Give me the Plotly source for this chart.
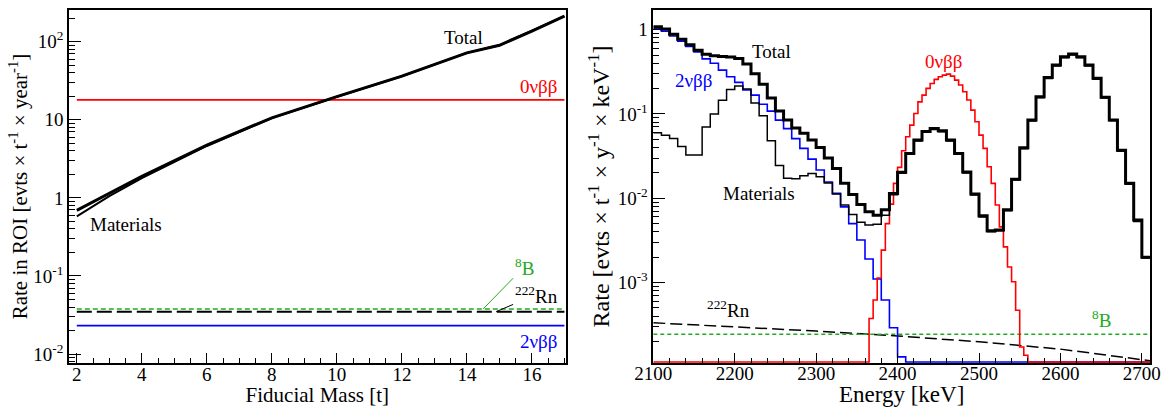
import numpy as np
import plotly.graph_objects as go

# ---------------- Left panel: rate in ROI vs fiducial mass ----------------
mass = [2, 3, 4, 6, 8, 10, 12, 14, 15, 16, 17]
total_roi = [0.69, 1.15, 1.89, 4.72, 10.6, 19.8, 36.2, 72, 90, 137, 213]
materials_roi = [0.58, 1.05, 1.79, 4.62, 10.5, 19.7, 36.1, 71.9, 89.9, 136.9, 212.9]
mass_span = [2, 17]
zeronu_roi = [18.0, 18.0]
b8_roi = [0.0378, 0.0378]
rn_roi = [0.0349, 0.0349]
twonu_roi = [0.0231, 0.0231]

# ---------------- Right panel: energy spectrum ----------------
edges10 = list(range(2100, 2711, 10))   # 10 keV bins
edges5 = list(range(2100, 2711, 5))     # 5 keV bins (0nbb)

total_spec = [1.08, 1.02, 0.88, 0.77, 0.66, 0.57, 0.51, 0.49, 0.48, 0.475,
              0.455, 0.39, 0.30, 0.225, 0.155, 0.108, 0.085, 0.068, 0.059, 0.049,
              0.040, 0.030, 0.0225, 0.0150, 0.0111, 0.0084, 0.0069, 0.0063, 0.0073, 0.0114,
              0.0203, 0.034, 0.049, 0.062, 0.067, 0.063, 0.049, 0.034, 0.0205, 0.0112,
              0.0062, 0.0041, 0.0042, 0.0073, 0.0168, 0.0396, 0.0845, 0.16, 0.27, 0.38,
              0.477, 0.513, 0.477, 0.38, 0.265, 0.158, 0.085, 0.037, 0.015, 0.0055,
              0.0020]
twonu_spec = [1.02, 0.96, 0.84, 0.73, 0.63, 0.545, 0.45, 0.40, 0.331, 0.276,
              0.237, 0.192, 0.167, 0.13, 0.108, 0.0845, 0.067, 0.051, 0.039, 0.0291,
              0.0216, 0.0156, 0.0114, 0.0079, 0.0050, 0.0032, 0.0019, 0.00110, 0.00062, 0.00029,
              0.000131] + [0] * 30
materials_spec = [0.060, 0.056, 0.051, 0.041, 0.0325, 0.0325, 0.070, 0.100, 0.145, 0.195,
                  0.214, 0.198, 0.135, 0.095, 0.048, 0.0245, 0.0172, 0.017, 0.0185, 0.0196,
                  0.018, 0.0152, 0.0112, 0.0083, 0.0064, 0.0052, 0.0048, 0.0049, 0.0063, 0.0110,
                  0.0198, 0.0332, 0.0478, 0.0605, 0.0655, 0.0615, 0.0478, 0.0332, 0.0199, 0.0109,
                  0.0060, 0.0040, 0.0041, 0.0071, 0.0164, 0.0386, 0.0825, 0.156, 0.263, 0.370,
                  0.465, 0.500, 0.465, 0.370, 0.258, 0.154, 0.083, 0.036, 0.0146, 0.0053,
                  0.00195]
zeronu_spec = [0] * 53 + [
    3.74e-4, 6.2e-4, 1.13e-3, 2.42e-3, 5.0e-3, 8.5e-3, 0.0150, 0.0232, 0.0365, 0.0536,
    0.0737, 0.101, 0.139, 0.167, 0.201, 0.230, 0.257, 0.276, 0.289, 0.297,
    0.281, 0.252, 0.220, 0.183, 0.146, 0.111, 0.0807, 0.056, 0.039, 0.0236,
    0.015, 8.3e-3, 4.57e-3, 2.65e-3, 1.53e-3, 1.02e-3, 4.69e-4, 1.72e-4, 1.37e-4] + [0] * 30
rn_energy = [2100, 2200, 2300, 2400, 2500, 2600, 2700, 2710]
rn_spec = [3.33e-4, 3.0e-4, 2.65e-4, 2.32e-4, 1.98e-4, 1.62e-4, 1.22e-4, 1.18e-4]
b8_energy = [2100, 2710]
b8_spec = [2.44e-4, 2.44e-4]

# axis ranges (log10 for log axes)
L_XR = [1.76, 17.04]
L_YR = [-2.115, 2.406]
R_XR = [2100, 2710]
R_YR = [-3.955, 0.233]
floor_val = 10 ** (R_YR[0] + 0.012)   # empty bins drawn on the frame bottom

FONT = "Liberation Serif, Times New Roman, Times, DejaVu Serif, serif"
RED = "#ff0000"
BLUE = "#0000ff"
GREEN = "#22aa22"


def step(edges, vals):
    v = [x if x > 0 else floor_val for x in vals]
    return edges, v + [v[-1]]


fig = go.Figure()

# left panel traces
fig.add_trace(go.Scatter(x=mass_span, y=zeronu_roi, mode="lines", line=dict(color=RED, width=1.6),
                         xaxis="x", yaxis="y", showlegend=False))
fig.add_trace(go.Scatter(x=mass_span, y=b8_roi, mode="lines",
                         line=dict(color=GREEN, width=1.6, dash="5px,3px"),
                         xaxis="x", yaxis="y", showlegend=False))
fig.add_trace(go.Scatter(x=mass_span, y=rn_roi, mode="lines",
                         line=dict(color="black", width=2, dash="15px,5px"),
                         xaxis="x", yaxis="y", showlegend=False))
fig.add_trace(go.Scatter(x=mass_span, y=twonu_roi, mode="lines", line=dict(color=BLUE, width=1.6),
                         xaxis="x", yaxis="y", showlegend=False))
fig.add_trace(go.Scatter(x=mass, y=materials_roi, mode="lines", line=dict(color="black", width=2),
                         xaxis="x", yaxis="y", showlegend=False))
fig.add_trace(go.Scatter(x=mass, y=total_roi, mode="lines", line=dict(color="black", width=3),
                         xaxis="x", yaxis="y", showlegend=False))

# right panel traces
fig.add_trace(go.Scatter(x=rn_energy, y=rn_spec, mode="lines",
                         line=dict(color="black", width=1.5, dash="12px,5px"),
                         xaxis="x2", yaxis="y2", showlegend=False))
fig.add_trace(go.Scatter(x=b8_energy, y=b8_spec, mode="lines",
                         line=dict(color=GREEN, width=1.5, dash="4px,3px"),
                         xaxis="x2", yaxis="y2", showlegend=False))
ex, ey = step(edges10, twonu_spec)
fig.add_trace(go.Scatter(x=ex, y=ey, mode="lines", line=dict(color=BLUE, width=1.6, shape="hv"),
                         xaxis="x2", yaxis="y2", showlegend=False))
ex, ey = step(edges5, zeronu_spec)
fig.add_trace(go.Scatter(x=ex, y=ey, mode="lines", line=dict(color=RED, width=1.6, shape="hv"),
                         xaxis="x2", yaxis="y2", showlegend=False))
ex, ey = step(edges10, materials_spec)
fig.add_trace(go.Scatter(x=ex, y=ey, mode="lines", line=dict(color="black", width=1.5, shape="hv"),
                         xaxis="x2", yaxis="y2", showlegend=False))
ex, ey = step(edges10, total_spec)
fig.add_trace(go.Scatter(x=ex, y=ey, mode="lines", line=dict(color="black", width=3, shape="hv"),
                         xaxis="x2", yaxis="y2", showlegend=False))

tickfont = dict(family=FONT, size=19, color="black")
titlefont = dict(family=FONT, size=21, color="black")
titlefont_r = dict(family=FONT, size=23, color="black")
titlefont_ry = dict(family=FONT, size=24, color="black")

common = dict(showline=True, linecolor="black", linewidth=1.5, mirror=True, showgrid=False,
              zeroline=False, ticks="inside", tickcolor="black", tickfont=tickfont,
              automargin=False)

y_tickvals_left = [0.01, 0.1, 1, 10, 100]
y_ticktext_left = ["10<sup>-2</sup>", "10<sup>-1</sup>", "1", "10", "10<sup>2</sup>"]
y_tickvals_right = [0.001, 0.01, 0.1, 1]
y_ticktext_right = ["10<sup>-3</sup>", "10<sup>-2</sup>", "10<sup>-1</sup>", "1"]

fig.update_layout(
    width=1171, height=407,
    margin=dict(l=69, r=21, t=10, b=44),
    paper_bgcolor="white", plot_bgcolor="white",
    font=dict(family=FONT, color="black"),
    xaxis=dict(domain=[0, 0.4595], range=L_XR, dtick=2, tick0=0, ticklen=10, ticklabelstandoff=-7,
               minor=dict(dtick=0.5, ticks="inside", ticklen=5, tickcolor="black"),
               title=dict(text="Fiducial Mass [t]", font=titlefont, standoff=4), **common),
    yaxis=dict(domain=[0, 1], type="log", range=L_YR, tickvals=y_tickvals_left,
               ticktext=y_ticktext_left, ticklen=12,
               minor=dict(dtick="D1", ticks="inside", ticklen=6, tickcolor="black"),
               title=dict(text="Rate in ROI [evts × t<sup>-1</sup> × year<sup>-1</sup>]",
                          font=titlefont, standoff=0), **common),
    xaxis2=dict(domain=[0.5405, 1], range=R_XR, dtick=100, tick0=2100, ticklen=10, anchor="y2",
                ticklabelstandoff=-8,
                minor=dict(dtick=20, ticks="inside", ticklen=5, tickcolor="black"),
                title=dict(text="Energy [keV]", font=titlefont_r, standoff=3), **common),
    yaxis2=dict(domain=[0, 1], type="log", range=R_YR, anchor="x2", tickvals=y_tickvals_right,
                ticktext=y_ticktext_right, ticklen=12,
                minor=dict(dtick="D1", ticks="inside", ticklen=6, tickcolor="black"),
                title=dict(text="Rate [evts × t<sup>-1</sup> × y<sup>-1</sup> × keV<sup>-1</sup>]",
                           font=titlefont_ry, standoff=1), **common),
)

lab = dict(family=FONT, size=19)
ann = [
    dict(x=13.89, y=2.055, xref="x", yref="y", text="Total", showarrow=False, font=dict(lab, color="black")),
    dict(x=16.21, y=1.423, xref="x", yref="y", text="0νββ", showarrow=False, font=dict(lab, color=RED)),
    dict(x=3.52, y=-0.342, xref="x", yref="y", text="Materials", showarrow=False, font=dict(lab, color="black")),
    dict(x=14.5, y=np.log10(b8_roi[0]), xref="x", yref="y", text="<sup>8</sup>B", showarrow=True,
         arrowhead=0, arrowwidth=1, arrowcolor=GREEN, ax=41, ay=-42, font=dict(lab, color=GREEN)),
    dict(x=14.9, y=np.log10(rn_roi[0]), xref="x", yref="y", text="<sup>222</sup>Rn", showarrow=True,
         arrowhead=0, arrowwidth=1, arrowcolor="black", ax=40, ay=-17, font=dict(lab, color="black")),
    dict(x=16.21, y=-1.838, xref="x", yref="y", text="2νββ", showarrow=False, font=dict(lab, color=BLUE)),
    dict(x=2245.5, y=-0.262, xref="x2", yref="y2", text="Total", showarrow=False, font=dict(lab, color="black")),
    dict(x=2148.8, y=-0.598, xref="x2", yref="y2", text="2νββ", showarrow=False, font=dict(lab, color=BLUE)),
    dict(x=2229.9, y=-1.944, xref="x2", yref="y2", text="Materials", showarrow=False, font=dict(lab, color="black")),
    dict(x=2456, y=-0.381, xref="x2", yref="y2", text="0νββ", showarrow=False, font=dict(lab, color=RED)),
    dict(x=2191.8, y=-3.309, xref="x2", yref="y2", text="<sup>222</sup>Rn", showarrow=False, font=dict(lab, color="black")),
    dict(x=2650.7, y=-3.428, xref="x2", yref="y2", text="<sup>8</sup>B", showarrow=False, font=dict(lab, color=GREEN)),
]
fig.update_layout(annotations=ann)

fig.write_html("out.html", config={"displayModeBar": False},
               post_script="document.body.style.margin='0px';document.body.style.overflow='hidden';")
